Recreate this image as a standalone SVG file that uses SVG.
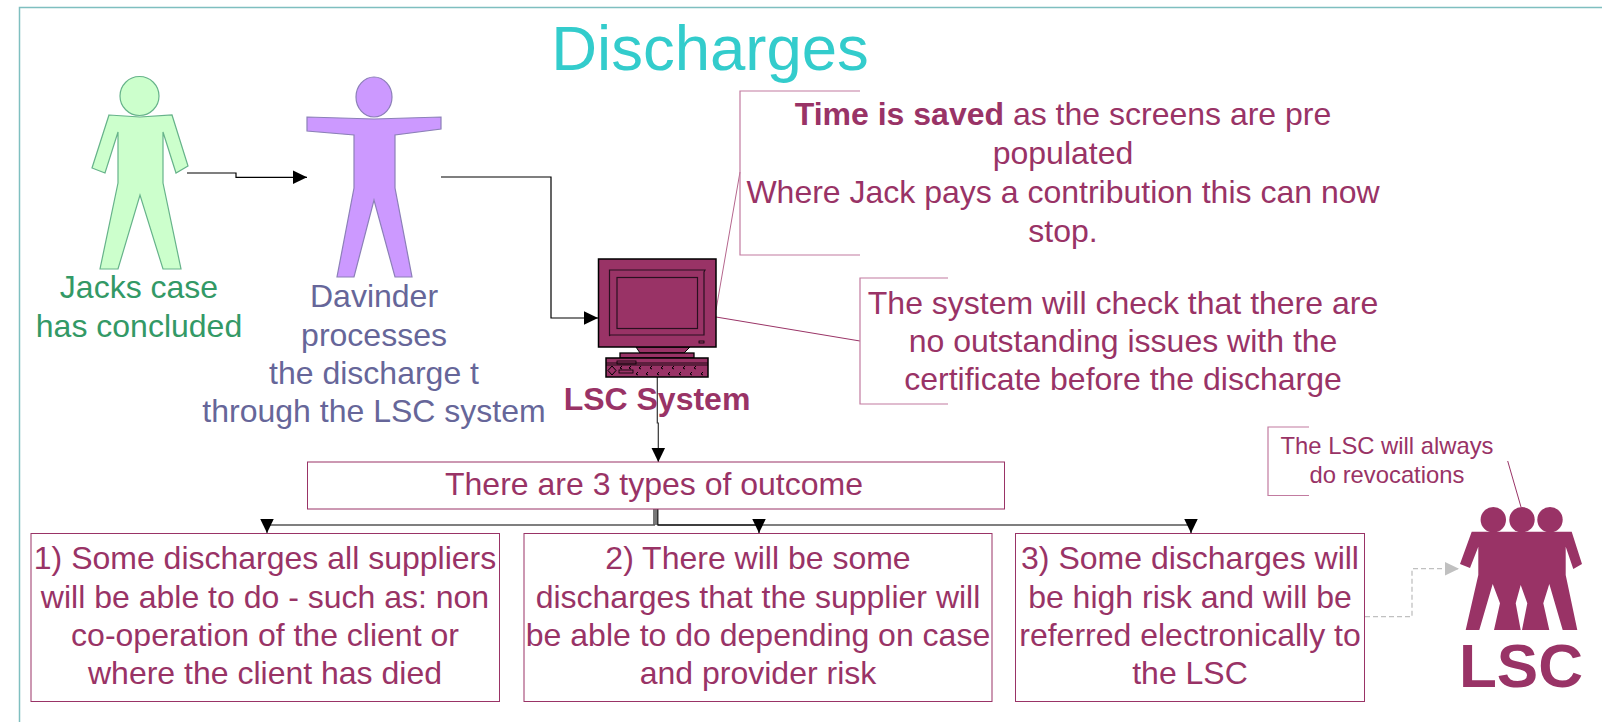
<svg xmlns="http://www.w3.org/2000/svg" width="1602" height="722" viewBox="0 0 1602 722">
<style>
text{font-family:"Liberation Sans",Arial,sans-serif;text-anchor:middle;fill:#993366;font-size:32px}
.box{fill:#fff;stroke:#993366;stroke-width:1}
.call{fill:none;stroke:#c27ba0;stroke-width:1.2}
.lead{fill:none;stroke:#993366;stroke-width:1}
.c{fill:none;stroke:#000;stroke-width:1.2}
</style>
<defs>
<marker id="a" markerUnits="userSpaceOnUse" markerWidth="15" markerHeight="15" refX="14.5" refY="7.5" orient="auto"><path d="M0 0.5L14.5 7.5L0 14.5Z" fill="#000"/></marker>
<marker id="g" markerUnits="userSpaceOnUse" markerWidth="15" markerHeight="15" refX="14.5" refY="7.5" orient="auto"><path d="M0 0.5L14.5 7.5L0 14.5Z" fill="#c0c0c0"/></marker>
</defs>
<rect width="1602" height="722" fill="#fff"/>
<path d="M19.5 722V7.5H1602" fill="none" stroke="#7fbfc0" stroke-width="1.5"/>
<text id="title" x="710" y="70" style="font-size:63.500px;fill:#33cccc">Discharges</text>
<g id="connectors">
<path class="c" d="M187 173H236V177.300H307" marker-end="url(#a)"/>
<path class="c" d="M441 177H551V318H598" marker-end="url(#a)"/>
<path class="c" d="M657.300 377V423H658.300V462" marker-end="url(#a)" style="stroke:#333"/>
<path d="M655 509V525" stroke="#777" stroke-width="4" fill="none"/>
<path d="M655 525H267V533" fill="none" stroke="#555" stroke-width="1.4" marker-end="url(#a)"/>
<path class="c" d="M657.800 509V525H759V533" marker-end="url(#a)"/>
<path class="c" d="M657.800 525H1191V533" marker-end="url(#a)"/>
<path d="M1365 616.700H1412V568.700H1459" fill="none" stroke="#c0c0c0" stroke-width="1.3" stroke-dasharray="5 3" marker-end="url(#g)"/>
<path class="lead" d="M716 310L740 172" style="stroke:#b5668d"/>
<path class="lead" d="M716 317L860 341"/>
<path class="lead" d="M1507.700 461L1521 507"/>
</g>
<g id="jack">
<circle cx="139.500" cy="96" r="19.500" fill="#ccffcc" stroke="#66b38a" stroke-width="1.2"/>
<path d="M109 115L140 117L172 115L188 166L176 173L163 132V183L181 269H163L140 195L118 269H100L118 183V132L105 173L92 168Z" fill="#ccffcc" stroke="#66b38a" stroke-width="1.2"/>
<text x="139" y="298" style="fill:#339966">Jacks case</text>
<text x="139" y="337" style="fill:#339966">has concluded</text>
</g>
<g id="davinder">
<ellipse cx="374" cy="97" rx="18" ry="20" fill="#cc99ff" stroke="#8c80b8" stroke-width="1.2"/>
<path d="M307 117L374 119L441 117V129L395 135V188L412 277H395L374 200L354 277H337L354 188V135L307 131Z" fill="#cc99ff" stroke="#8c80b8" stroke-width="1.2"/>
<text x="374" y="307" style="fill:#666699">Davinder</text>
<text x="374" y="346" style="fill:#666699">processes</text>
<text x="374" y="384" style="fill:#666699">the discharge t</text>
<text x="374" y="422" style="fill:#666699">through the LSC system</text>
</g>
<g id="system">
<path d="M636 347L640 353H676L684 353L690 347Z" fill="#993366" stroke="#000"/>
<rect x="620" y="353" width="74" height="5" fill="#993366" stroke="#000" stroke-width="1.3"/>
<rect x="606" y="358" width="102" height="19" fill="#993366" stroke="#000" stroke-width="1.5"/>
<path d="M606 363H708M606 365H708" stroke="#000" stroke-width=".8"/>
<rect x="617" y="361" width="19" height="3" fill="none" stroke="#000" stroke-width=".8"/>
<path d="M612 366L616 370.500L612 375L608 370.500Z" fill="none" stroke="#000"/>
<rect x="619" y="370" width="14" height="3" fill="none" stroke="#000" stroke-width=".8"/>
<path d="M622 366l-2 2l2 1M631 366l-2 2l2 1M641 366l-2 2l2 1M652 366l-2 2l2 1M663 366l-2 2l2 1M674 366l-2 2l2 1M685 366l-2 2l2 1M696 366l-2 2l2 1M638 372l-2 2l2 1M648 372l-2 2l2 1M659 372l-2 2l2 1M670 372l-2 2l2 1M681 372l-2 2l2 1M692 372l-2 2l2 1M703 372l-2 2l2 1" fill="none" stroke="#000"/>
<rect x="598.500" y="259" width="117.500" height="88" fill="#993366" stroke="#000" stroke-width="1.5"/>
<path d="M609.500 270H705L704 272V335H610L609.500 336Z" fill="none" stroke="#2a1020" stroke-width="1.2"/>
<rect x="617" y="277.500" width="80.500" height="51" fill="#993366" stroke="#2a1020" stroke-width="1.2"/>
<rect x="699" y="341" width="5" height="2" fill="none" stroke="#000" stroke-width=".8"/>
<text x="657" y="410" style="font-weight:bold">LSC System</text>
</g>
<g id="note-time">
<path class="call" d="M860 91H740V255H860"/>
<text x="1063" y="125"><tspan font-weight="bold">Time is saved</tspan> as the screens are pre</text>
<text x="1063" y="164">populated</text>
<text x="1063" y="203">Where Jack pays a contribution this can now</text>
<text x="1063" y="242">stop.</text>
</g>
<g id="note-check">
<path class="call" d="M948 278H860V404H948"/>
<text x="1123" y="314">The system will check that there are</text>
<text x="1123" y="352">no outstanding issues with the</text>
<text x="1123" y="390">certificate before the discharge</text>
</g>
<g id="outcome">
<rect class="box" x="307.500" y="462" width="697" height="47"/>
<text x="654" y="495">There are 3 types of outcome</text>
</g>
<g id="box1">
<rect class="box" x="31" y="533.500" width="468.500" height="168"/>
<text x="265" y="569">1) Some discharges all suppliers</text>
<text x="265" y="607.500">will be able to do - such as: non</text>
<text x="265" y="645.500">co-operation of the client or</text>
<text x="265" y="684">where the client has died</text>
</g>
<g id="box2">
<rect class="box" x="524" y="533.500" width="468" height="168"/>
<text x="758" y="569">2) There will be some</text>
<text x="758" y="607.500">discharges that the supplier will</text>
<text x="758" y="645.500">be able to do depending on case</text>
<text x="758" y="684">and provider risk</text>
</g>
<g id="box3">
<rect class="box" x="1015.500" y="533.500" width="349" height="168"/>
<text x="1190" y="569">3) Some discharges will</text>
<text x="1190" y="607.500">be high risk and will be</text>
<text x="1190" y="645.500">referred electronically to</text>
<text x="1190" y="684">the LSC</text>
</g>
<g id="note-lsc">
<path class="call" d="M1309 427H1268V495.500H1309"/>
<text x="1387" y="454" style="font-size:23.800px">The LSC will always</text>
<text x="1387" y="483" style="font-size:23.800px">do revocations</text>
</g>
<g id="lsc">
<circle cx="1493.300" cy="519.700" r="12.700" fill="#993366"/>
<circle cx="1522" cy="519.700" r="12.700" fill="#993366"/>
<circle cx="1550" cy="519.700" r="12.700" fill="#993366"/>
<path d="M1471.700 531.700H1571.700L1582 564L1573.300 569L1565.700 546.700V575L1577.300 630H1562.700L1549.300 584L1543.300 603.300L1549.300 630H1522L1527.300 603.300L1520.700 585L1515.700 603.300L1520.700 630H1494L1500 603.300L1492.700 584L1479.300 630H1465.700L1478.300 575V546.700L1470 568L1460 564Z" fill="#993366"/>
<text x="1521" y="686.500" style="font-size:62px;font-weight:bold">LSC</text>
</g>
</svg>
